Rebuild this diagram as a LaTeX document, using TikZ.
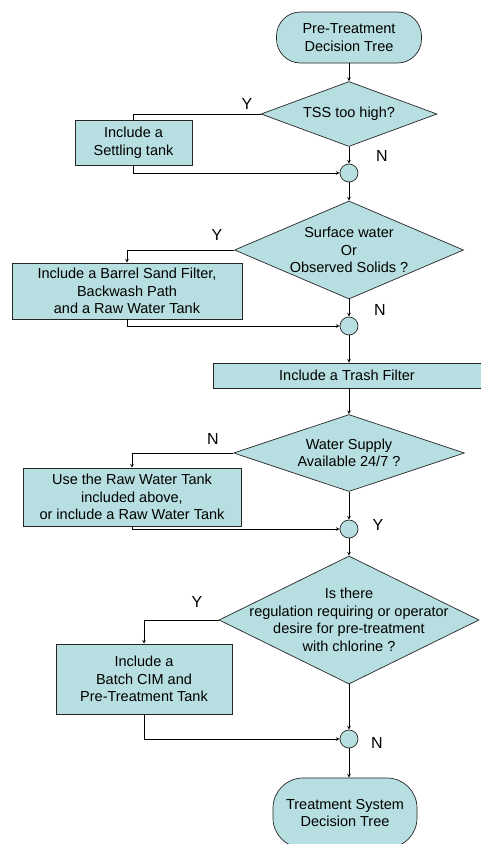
\documentclass[tikz,border=0pt]{standalone}
\usepackage{fontspec}
\setmainfont{Liberation Sans}
\usetikzlibrary{shapes.geometric}
\definecolor{boxfill}{RGB}{183,222,224}

\begin{document}
\begin{tikzpicture}[>=stealth, x=1pt, y=-1pt, line width=0.7pt,
    txt/.style={font=\fontsize{14.5}{17.5}\selectfont, align=center},
    box/.style={txt, draw=black!85, fill=boxfill, inner sep=0pt},
    term/.style={box, rounded corners=24pt},
    decision/.style={diamond, draw=black!85, fill=boxfill, inner sep=0pt},
    junction/.style={circle, draw=black!85, fill=boxfill, minimum size=18pt, inner sep=0pt},
    yn/.style={font=\fontsize{16}{18}\selectfont, inner sep=0pt}]
  \useasboundingbox (0,0) rectangle (481,844);

  % main column
  \node[term, minimum width=145, minimum height=51] (start) at (349,37.5) {Pre-Treatment\\Decision Tree};
  \node[decision, minimum width=176, minimum height=65,
        label={[txt]center:TSS too high?}] (d1) at (349,114) {};
  \node[junction] (j1) at (349,173) {};
  \node[decision, minimum width=229, minimum height=98,
        label={[txt]center:{Surface water\\Or\\Observed Solids ?}}] (d2) at (349,250) {};
  \node[junction] (j2) at (349,326) {};
  \node[box, minimum width=268, minimum height=25] (trash) at (347,375.5) {Include a Trash Filter};
  \node[decision, minimum width=231, minimum height=77,
        label={[txt]center:{Water Supply\\Available 24/7 ?}}] (d3) at (349,453) {};
  \node[junction] (j3) at (349,529) {};
  \node[decision, minimum width=260, minimum height=128,
        label={[txt]center:{Is there\\regulation requiring or operator\\desire for pre-treatment\\with chlorine ?}}] (d4) at (349,620) {};
  \node[junction] (j4) at (349,739) {};
  \node[term, rounded corners=30pt, minimum width=144, minimum height=70] (end) at (345,813) {Treatment System\\Decision Tree};

  % side boxes
  \node[box, minimum width=117, minimum height=45] (settle) at (133.5,142.5) {Include a\\Settling tank};
  \node[box, minimum width=230, minimum height=56] (sand) at (127,291) {Include a Barrel Sand Filter,\\Backwash Path\\and a Raw Water Tank};
  \node[box, minimum width=218, minimum height=58] (raw) at (132,497) {Use the Raw Water Tank\\included above,\\or include a Raw Water Tank};
  \node[box, minimum width=176, minimum height=70] (cim) at (144,679) {Include a\\Batch CIM and\\Pre-Treatment Tank};

  % Y / N
  \node[yn] (y1) at (247,104) {Y};
  \node[yn] (n1) at (382,156) {N};
  \node[yn] (y2) at (217,235) {Y};
  \node[yn] (n2) at (380,310) {N};
  \node[yn] (n3) at (213,439) {N};
  \node[yn] (y3) at (378,525) {Y};
  \node[yn] (y4) at (197,602) {Y};
  \node[yn] (n4) at (377,743) {N};

  % connectors
  \draw[->] (start) -- (d1);
  \draw[->] (d1) -- (j1);
  \draw (d1.west) -| (settle.north);
  \draw[->] (settle.south) |- (j1);
  \draw[->] (j1) -- (d2);
  \draw[->] (d2) -- (j2);
  \draw[->] (d2.west) -| (sand.north);
  \draw[->] (sand.south) |- (j2);
  \draw[->] (j2) -- (j2 |- trash.north);
  \draw[->] (d3.north |- trash.south) -- (d3);
  \draw[->] (d3) -- (j3);
  \draw[->] (d3.west) -| (raw.north);
  \draw[->] (raw.south) |- (j3);
  \draw[->] (j3) -- (d4);
  \draw[->] (d4) -- (j4);
  \draw[->] (d4.west) -| (cim.north);
  \draw[->] (cim.south) |- (j4);
  \draw[->] (j4) -- (j4 |- end.north);
\end{tikzpicture}
\end{document}
